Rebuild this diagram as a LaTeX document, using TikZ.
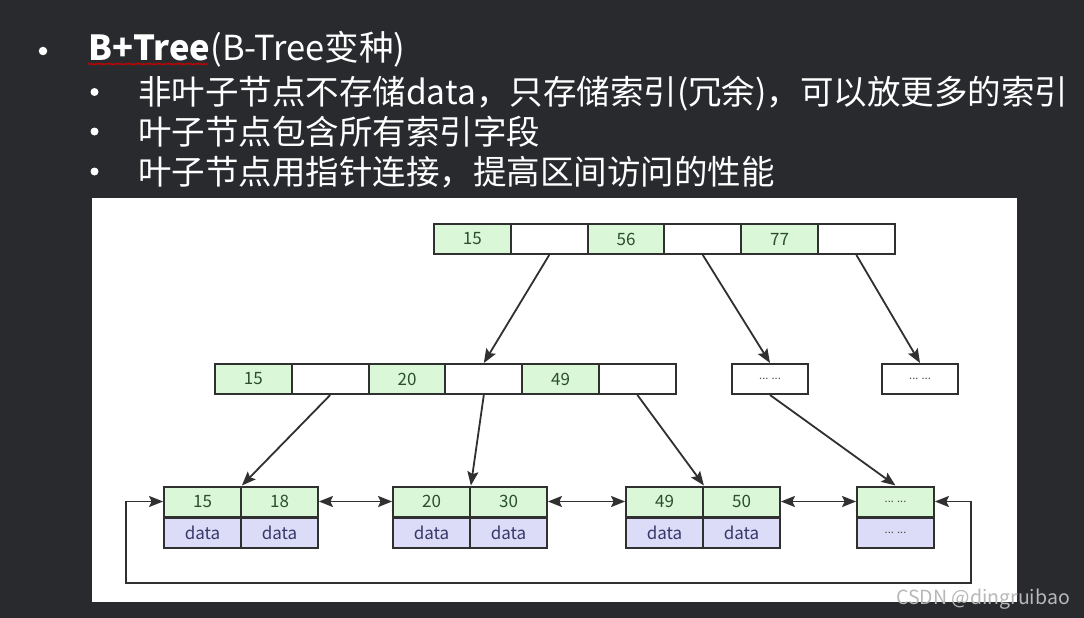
\documentclass[tikz,border=0pt]{standalone}
\usepackage{fontspec}
\setmainfont{Noto Sans CJK SC}
\usetikzlibrary{arrows.meta,decorations.pathmorphing}
\definecolor{bgc}{HTML}{282A2E}
\definecolor{bd}{HTML}{303030}
\definecolor{gfill}{HTML}{DAF7D8}
\definecolor{pfill}{HTML}{DCDCF8}
\definecolor{gtext}{HTML}{2A502A}
\definecolor{ptext}{HTML}{38386A}
\definecolor{wm}{HTML}{B8B8B8}
\tikzset{
  cell/.style={draw=bd, line width=2pt, minimum width=76.8pt, minimum height=30pt, inner sep=0pt, fill=white, font=\fontsize{17}{17}\selectfont},
  gcell/.style={cell, fill=gfill, text=gtext},
  pcell/.style={cell, fill=pfill, text=ptext},
  dots/.style={font=\fontsize{11}{11}\selectfont, text=black!70},
  arr/.style={draw=bd, line width=1.8pt, -{Stealth[length=14pt,width=11pt,inset=2.5pt]}},
  dbl/.style={draw=bd, line width=1.8pt, {Stealth[length=14pt,width=11pt,inset=2.5pt]}-{Stealth[length=14pt,width=11pt,inset=2.5pt]}},
  ttl/.style={anchor=base west, text=white, inner sep=0pt, font=\fontsize{33.5}{33.5}\selectfont},
  bul/.style={circle, fill=white, inner sep=0pt, minimum size=#1}
}
\begin{document}
\begin{tikzpicture}[x=1pt,y=-1pt]
\fill[bgc] (0,0) rectangle (1084,618);
\useasboundingbox (0,0) rectangle (1084,618);
\fill[white] (92,198) rectangle (1017,602);
% title text
\node[bul=8.5pt] (b0) at (43,51) {};
\node[ttl, font=\fontsize{34.5}{34.5}\selectfont] (t0) at (88,60) {\textbf{B+Tree}(B-Tree变种)};
\draw[red!80!black, line width=0.8pt, decorate, decoration={zigzag, amplitude=0.8pt, segment length=2.5pt}] (88,64) -- (208,64);
\node[bul=8pt] (b1) at (94.5,92) {};
\node[ttl] (t1) at (138,104) {非叶子节点不存储data，只存储索引(冗余)，可以放更多的索引};
\node[bul=8pt] (b2) at (94.5,131.5) {};
\node[ttl] (t2) at (138,144) {叶子节点包含所有索引字段};
\node[bul=8pt] (b3) at (94.5,171.5) {};
\node[ttl] (t3) at (138,184) {叶子节点用指针连接，提高区间访问的性能};
% root
\node[gcell] (r1) at (472.4,239) {15};
\node[cell]  (r2) at (549.2,239) {};
\node[gcell] (r3) at (626.0,239) {56};
\node[cell]  (r4) at (702.8,239) {};
\node[gcell] (r5) at (779.6,239) {77};
\node[cell]  (r6) at (856.4,239) {};
% level 2
\node[gcell] (l1) at (253.4,379) {15};
\node[cell]  (l2) at (330.2,379) {};
\node[gcell] (l3) at (407.0,379) {20};
\node[cell]  (l4) at (483.8,379) {};
\node[gcell] (l5) at (560.6,379) {49};
\node[cell]  (l6) at (637.4,379) {};
\node[cell,dots] (d1) at (770,379) {... ...};
\node[cell,dots] (d2) at (920,379) {... ...};
% leaves
\node[gcell] (a1) at (202.5,501.5) {15};
\node[gcell] (a2) at (279.5,501.5) {18};
\node[pcell] (a3) at (202.5,532.5) {data};
\node[pcell] (a4) at (279.5,532.5) {data};
\node[gcell] (c1) at (431.5,501.5) {20};
\node[gcell] (c2) at (508.5,501.5) {30};
\node[pcell] (c3) at (431.5,532.5) {data};
\node[pcell] (c4) at (508.5,532.5) {data};
\node[gcell] (f1) at (664.5,501.5) {49};
\node[gcell] (f2) at (741.5,501.5) {50};
\node[pcell] (f3) at (664.5,532.5) {data};
\node[pcell] (f4) at (741.5,532.5) {data};
\node[gcell,dots] (e1) at (895.5,501.5) {... ...};
\node[pcell,dots] (e2) at (895.5,532.5) {... ...};
% tree arrows
\draw[arr] (r2.south) -- (l4.north);
\draw[arr] (r4.south) -- (d1.north);
\draw[arr] (r6.south) -- (d2.north);
\draw[arr] (l2.south) -- (a1.north east);
\draw[arr] (l4.south) -- (c1.north east);
\draw[arr] (l6.south) -- (f1.north east);
\draw[arr] (d1.south) -- (e1.north);
% leaf links
\draw[dbl] (a2.east) -- (c1.west);
\draw[dbl] (c2.east) -- (f1.west);
\draw[dbl] (f2.east) -- (e1.west);
\coordinate (lr) at (971,583);
\coordinate (ll) at (126,583);
\draw[dbl] (e1.east) -| (lr) -- (ll) |- (a1.west);
% watermark
\node[anchor=base east, text=wm, inner sep=0pt, font=\fontsize{19.5}{19.5}\selectfont] (wmk) at (1070,604) {CSDN @dingruibao};
\end{tikzpicture}
\end{document}
